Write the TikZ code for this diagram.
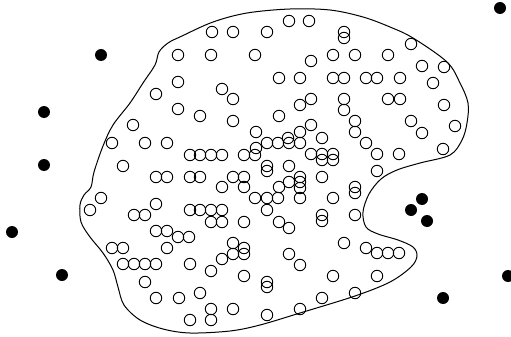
\documentclass[tikz,border=0pt]{standalone}
\begin{document}
\begin{tikzpicture}[x=1pt,y=-1pt,
  oc/.style={circle,draw=black,line width=0.9pt,minimum size=11.5pt,inner sep=0pt},
  fd/.style={circle,fill=black,minimum size=12pt,inner sep=0pt},
  blob/.style={draw=black,line width=1pt}]
\useasboundingbox (0,0) rectangle (511,337);
\draw[blob] plot[smooth cycle,tension=0.55] coordinates {
(113,125) (130,103) (143,83) (155,65) (159,52) (168,43) (182,36) (213,22) (247,13) (290,9) (330,10) (363,17) (390,27) (413,38) (447,62) (460,83) (468,103) (467,123) (462,140) (450,155) (420,163) (397,170) (381,179) (369,194) (363,212) (366,227) (378,234) (398,240) (413,247) (417,256) (411,267) (390,282) (355,296) (300,313) (260,325) (230,331) (190,333) (163,329) (140,320) (124,305) (118,287) (113,270) (103,253) (90,237) (81,222) (80,205) (84,195) (91,187) (94,172) (103,146)};
\foreach \x/\y [count=\i] in {
289/21,309/21,212/32,233/32,267/32,344/32,344/38,411/44,178/55,211/55,
255/55,333/55,355/55,388/55,311/61,422/66,444/67,178/82,279/78,300/78,
333/78,344/78,366/78,377/78,400/78,433/83,222/89,156/94,233/99,311/99,
344/99,388/99,400/99,300/105,444/105,178/109,344/110,200/116,279/116,233/121,
355/121,311/125,411/121,133/125,455/126,256/132,300/132,355/132,422/133,288/138,
322/138,112/143,145/143,167/143,267/143,278/143,289/143,300/143,366/143,443/149,
256/148,190/155,200/155,211/155,222/155,244/155,255/155,311/154,322/154,322/160,
333/154,333/160,377/154,399/154,123/166,267/166,267/171,289/166,377/171,156/177,
167/177,190/177,200/177,233/177,244/177,300/177,300/182,300/188,322/177,289/182,
222/187,244/187,279/187,355/187,355/193,101/198,255/198,267/198,278/198,300/198,
333/198,156/204,90/210,190/210,200/210,211/210,222/210,267/210,134/215,145/215,
355/215,322/215,322/221,211/222,222/222,244/222,279/222,289/228,156/231,167/231,
178/237,189/237,233/243,344/243,112/248,123/248,167/248,244/248,366/248,233/254,
244/254,289/254,377/253,388/253,399/253,222/259,123/264,134/264,145/264,156/264,
190/264,300/265,211/271,244/276,333/276,377/276,145/282,267/282,267/287,200/293,
355/293,156/298,179/298,322/298,211/309,233/309,300/309,267/315,190/320,211/320}
  \node[oc] (c\i) at (\x,\y) {};
\foreach \x/\y [count=\i] in {500/8,101/55,44/112,44/165,12/232,62/275,422/199,411/210,427/221,508/276,443/298}
  \node[fd] (d\i) at (\x,\y) {};
\end{tikzpicture}
\end{document}
